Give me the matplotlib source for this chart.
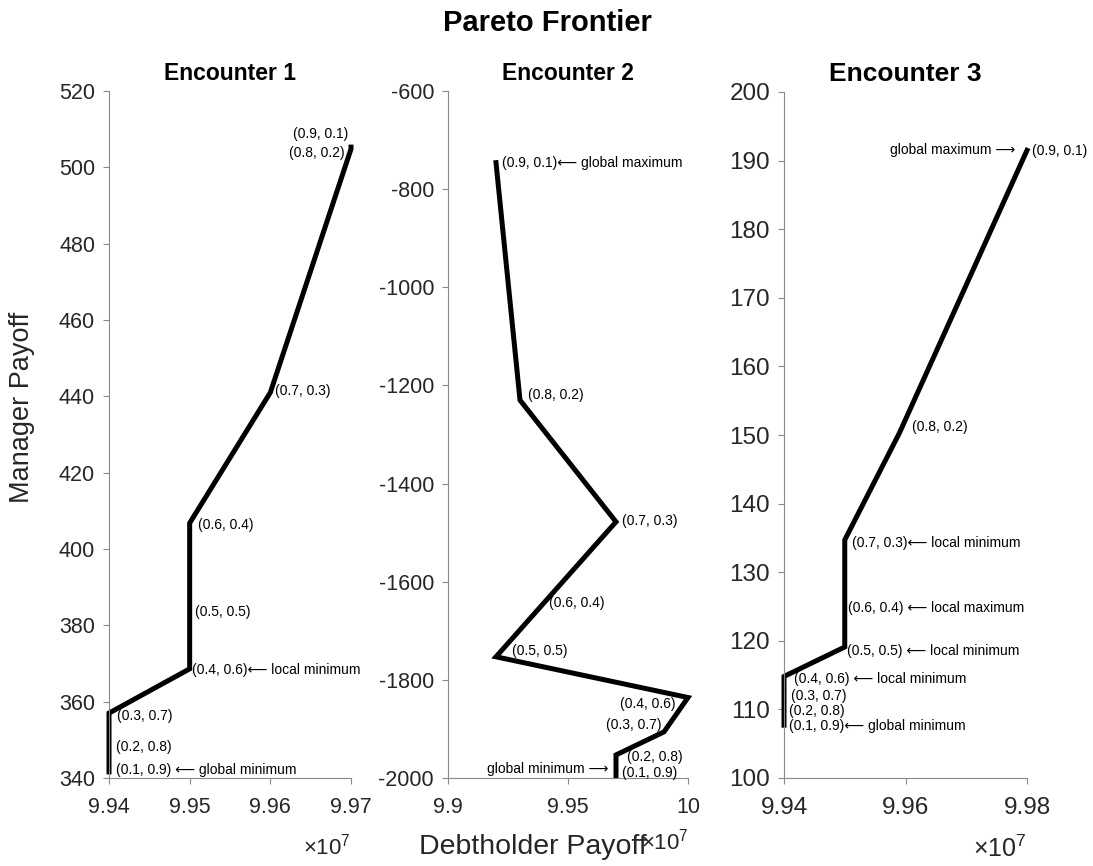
import matplotlib.pyplot as plt

plt.rcParams['font.family'] = ['Liberation Sans', 'DejaVu Sans']
plt.rcParams['mathtext.fontset'] = 'custom'
plt.rcParams['mathtext.rm'] = 'Liberation Sans'
plt.rcParams['axes.unicode_minus'] = False

# weight pairs, ordered along each frontier
pairs = ['(0.1, 0.9)', '(0.2, 0.8)', '(0.3, 0.7)', '(0.4, 0.6)', '(0.5, 0.5)',
         '(0.6, 0.4)', '(0.7, 0.3)', '(0.8, 0.2)', '(0.9, 0.1)']

# debtholder payoff (x 1e7) and manager payoff per encounter
enc1_x = [9.94, 9.94, 9.94, 9.95, 9.95, 9.95, 9.96, 9.97, 9.97]
enc1_y = [341.6, 348.0, 357.0, 368.6, 383.5, 406.8, 441.0, 504.8, 505.3]

enc2_x = [9.97, 9.97, 9.99, 10.0, 9.92, 9.94, 9.97, 9.93, 9.92]
enc2_y = [-1995, -1953, -1906, -1836, -1753, -1643, -1478, -1230, -746]

enc3_x = [9.94, 9.94, 9.94, 9.94, 9.95, 9.95, 9.95, 9.959, 9.98]
enc3_y = [107.7, 109.7, 111.9, 114.8, 119.1, 124.8, 134.7, 150.3, 191.5]

LA = '\u27f5'  # long left arrow
RA = '\u27f6'  # long right arrow

# notes appended to some of the point labels
enc1_notes = {0: ' ' + LA + ' global minimum', 3: LA + ' local minimum'}
enc2_notes = {8: LA + ' global maximum'}
enc3_notes = {0: LA + ' global minimum', 3: ' ' + LA + ' local minimum',
              4: ' ' + LA + ' local minimum', 5: ' ' + LA + ' local maximum',
              6: LA + ' local minimum'}

enc1_xticks = [9.94, 9.95, 9.96, 9.97]
enc1_yticks = [340, 360, 380, 400, 420, 440, 460, 480, 500, 520]
enc2_xticks = [9.9, 9.95, 10.0]
enc2_yticks = [-2000, -1800, -1600, -1400, -1200, -1000, -800, -600]
enc3_xticks = [9.94, 9.96, 9.98]
enc3_yticks = [100, 110, 120, 130, 140, 150, 160, 170, 180, 190, 200]

# label offsets in pixels (dx, dy) and horizontal alignment
enc1_offsets = [(7, 2, 'left'), (7, 0, 'left'), (8, -3, 'left'), (2, -1, 'left'),
                (5, 0, 'left'), (8, -2, 'left'), (5, 2, 'left'),
                (-6, -4, 'right'), (-3, 13, 'right')]
enc2_offsets = [(6, 3, 'left'), (11, -2, 'left'), (-3, 7, 'right'), (-13, -6, 'right'),
                (16, 6, 'left'), (5, 0, 'left'), (6, 1, 'left'), (8, 5, 'left'),
                (6, 0, 'left')]
enc3_offsets = [(5, -1, 'left'), (5, 0, 'left'), (7, 0, 'left'), (10, -3, 'left'),
                (2, -4, 'left'), (3, 0, 'left'), (7, -3, 'left'), (13, 6, 'left'),
                (5, -1, 'left')]

W, H = 1093, 866
fig = plt.figure(figsize=(W / 100, H / 100), dpi=100)

spine_grey = '#8a8a8a'
tick_text = '#262626'


def make_axes(left, right, top, bottom):
    return fig.add_axes([left / W, 1 - bottom / H, (right - left) / W, (bottom - top) / H])


def style(ax, xticks, yticks, xlim, ylim, fs, title, tfs):
    ax.set_xlim(*xlim)
    ax.set_ylim(*ylim)
    ax.set_xticks(xticks)
    ax.set_xticklabels(['%g' % t for t in xticks])
    ax.set_yticks(yticks)
    ax.set_yticklabels(['%g' % t for t in yticks])
    for s in ['top', 'right']:
        ax.spines[s].set_visible(False)
    for s in ['left', 'bottom']:
        ax.spines[s].set_color(spine_grey)
        ax.spines[s].set_linewidth(0.8)
    ax.tick_params(axis='both', direction='out', length=4, width=0.8,
                   color=spine_grey, labelcolor=tick_text, labelsize=fs)
    ax.tick_params(axis='x', pad=10)
    ax.tick_params(axis='y', pad=6)
    ax.set_title(title, fontsize=tfs, fontweight='bold', pad=8)


def draw(ax, xs, ys, notes, offsets):
    ax.plot(xs, ys, color='black', linewidth=3.6, solid_joinstyle='miter', clip_on=False)
    for i, (x, y) in enumerate(zip(xs, ys)):
        dx, dy, ha = offsets[i]
        ax.annotate(pairs[i] + notes.get(i, ''), (x, y), xytext=(dx, dy),
                    textcoords='offset pixels', ha=ha, va='center',
                    fontsize=10, color='black', annotation_clip=False)


ax1 = make_axes(109, 351, 91, 778)
style(ax1, enc1_xticks, enc1_yticks, (9.94, 9.97), (340, 520), 15.5, 'Encounter 1', 16.5)
draw(ax1, enc1_x, enc1_y, enc1_notes, enc1_offsets)

ax2 = make_axes(448, 688, 91, 778)
style(ax2, enc2_xticks, enc2_yticks, (9.9, 10.0), (-2000, -600), 15.5, 'Encounter 2', 16.5)
draw(ax2, enc2_x, enc2_y, enc2_notes, enc2_offsets)
ax2.annotate('global minimum ' + RA, (enc2_x[0], enc2_y[0]), xytext=(-8, 7),
             textcoords='offset pixels', ha='right', va='center', fontsize=10,
             annotation_clip=False)

ax3 = make_axes(784, 1027, 92, 778)
style(ax3, enc3_xticks, enc3_yticks, (9.94, 9.98), (100, 200), 17.5, 'Encounter 3', 19)
draw(ax3, enc3_x, enc3_y, enc3_notes, enc3_offsets)
ax3.annotate('global maximum ' + RA, (enc3_x[-1], enc3_y[-1]), xytext=(-12, 0),
             textcoords='offset pixels', ha='right', va='center', fontsize=10,
             annotation_clip=False)

# exponent markers under each x axis
fig.text(351 / W, 1 - 847 / H, r'$\times10^{7}$', ha='right', va='center',
         fontsize=16, color=tick_text)
fig.text(689 / W, 1 - 842 / H, r'$\times10^{7}$', ha='right', va='center',
         fontsize=16, color=tick_text)
fig.text(1027 / W, 1 - 849 / H, r'$\times10^{7}$', ha='right', va='center',
         fontsize=18, color=tick_text)

fig.text(533 / W, 1 - 847 / H, 'Debtholder Payoff', ha='center', va='center',
         fontsize=20.5, color=tick_text)
fig.text(22 / W, 1 - 407 / H, 'Manager Payoff', ha='center', va='center',
         rotation=90, fontsize=19.5, color=tick_text)
fig.text(547 / W, 1 - 23 / H, 'Pareto Frontier', ha='center', va='center',
         fontsize=21, fontweight='bold')

fig.savefig('out.png', dpi=100)
